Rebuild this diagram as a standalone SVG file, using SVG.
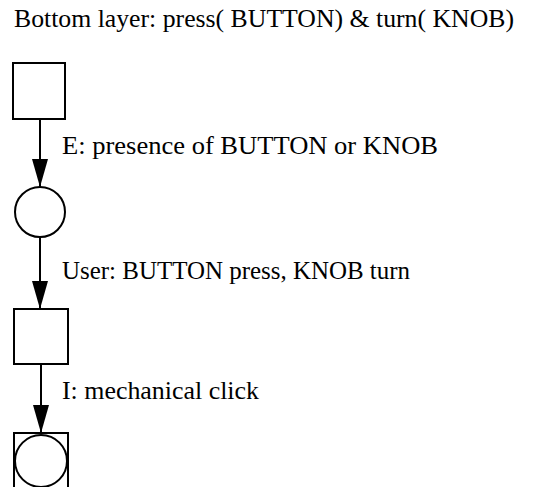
<svg xmlns="http://www.w3.org/2000/svg" width="542" height="487" viewBox="0 0 542 487">
<style>
.t{font-family:"Liberation Serif","Times New Roman",serif;font-size:25px;fill:#000}
.n{fill:#fff;stroke:#000;stroke-width:2}
.c{stroke:#000;stroke-width:2;fill:none}
</style>
<defs>
<marker id="ah" markerUnits="userSpaceOnUse" markerWidth="28" markerHeight="16" refX="28" refY="8" orient="auto" viewBox="0 0 28 16">
<path d="M0,0 L28,8 L0,16 Z" fill="#000"/>
</marker>
</defs>
<rect width="542" height="487" fill="#fff"/>
<text class="t" x="14" y="27" textLength="500" lengthAdjust="spacingAndGlyphs">Bottom layer: press( BUTTON) &amp; turn( KNOB)</text>
<g id="connectors">
<line class="c" x1="40" y1="119" x2="40" y2="187" marker-end="url(#ah)"/>
<line class="c" x1="40" y1="237" x2="40" y2="309" marker-end="url(#ah)"/>
<line class="c" x1="41" y1="364" x2="41" y2="433" marker-end="url(#ah)"/>
</g>
<g id="t1"><rect class="n" x="13" y="63" width="52" height="56"/></g>
<g id="p1"><circle class="n" cx="40" cy="212" r="25"/></g>
<g id="t2"><rect class="n" x="14" y="309" width="54" height="55"/></g>
<g id="p2"><rect class="n" x="14" y="433" width="54" height="60"/><circle class="n" cx="41" cy="461" r="26"/></g>
<text class="t" x="62" y="154" textLength="376" lengthAdjust="spacingAndGlyphs">E: presence of BUTTON or KNOB</text>
<text class="t" x="62" y="279" textLength="348" lengthAdjust="spacingAndGlyphs">User: BUTTON press, KNOB turn</text>
<text class="t" x="62" y="399" textLength="197" lengthAdjust="spacingAndGlyphs">I: mechanical click</text>
</svg>
